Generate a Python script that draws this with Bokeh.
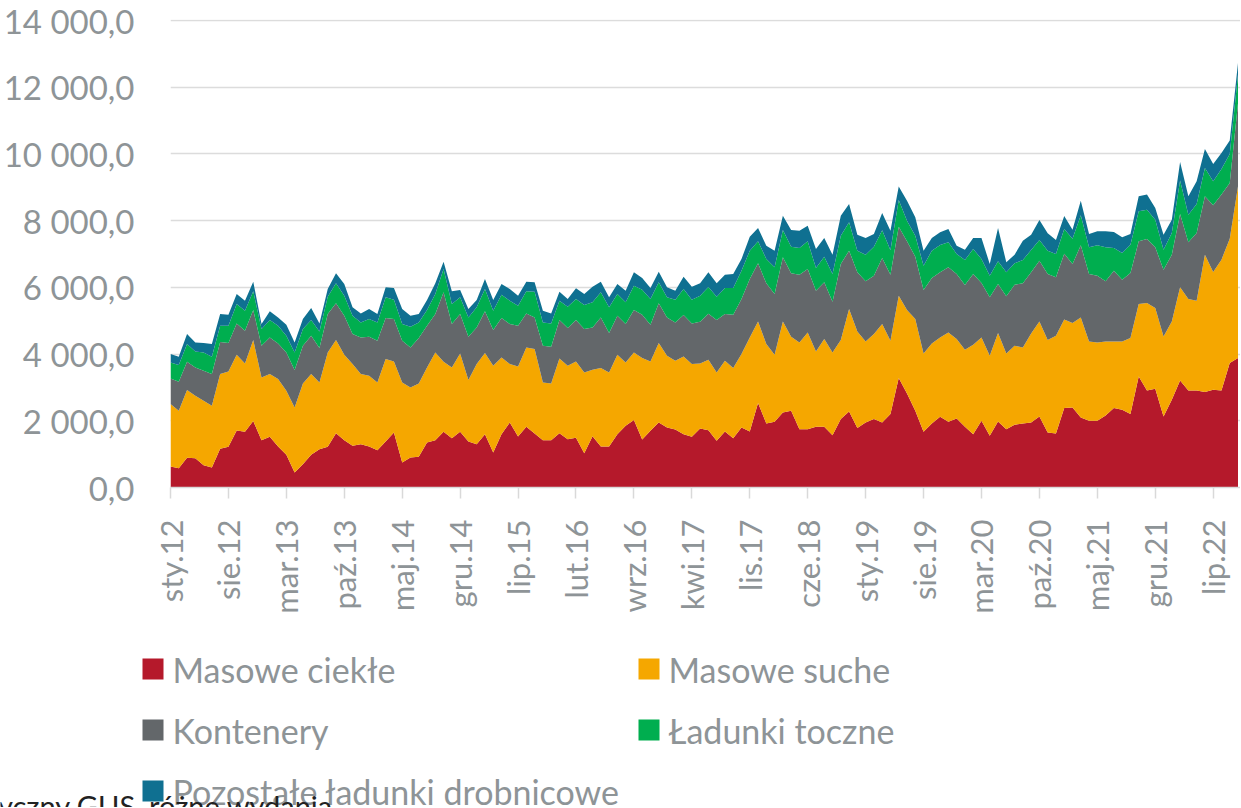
import math
from bokeh.plotting import figure
from bokeh.layouts import column
from bokeh.models import ColumnDataSource, Range1d, FixedTicker, Label, Plot
from bokeh.core.properties import value
from bokeh.embed import file_html
from bokeh.resources import INLINE

# ---------------- data (monthly, sty.12 .. paź.22) ----------------
masowe_ciekle = [630, 580, 890, 880, 670, 600, 1160, 1220, 1710, 1670,
                 1990, 1420, 1520, 1230, 980, 450, 700, 980, 1150, 1220,
                 1630, 1420, 1250, 1300, 1230, 1120, 1380, 1650, 750, 900,
                 920, 1350, 1420, 1670, 1480, 1670, 1380, 1300, 1600, 1050,
                 1600, 1950, 1530, 1820, 1620, 1420, 1420, 1630, 1450, 1490,
                 1030, 1540, 1230, 1230, 1600, 1850, 2020, 1440, 1700, 1950,
                 1800, 1740, 1600, 1520, 1770, 1720, 1400, 1680, 1480, 1800,
                 1680, 2530, 1920, 1970, 2250, 2300, 1750, 1750, 1820, 1820,
                 1570, 2050, 2280, 1780, 1950, 2050, 1950, 2200, 3280, 2820,
                 2300, 1670, 1920, 2120, 1970, 2070, 1820, 1600, 2000, 1550,
                 1980, 1750, 1880, 1920, 1950, 2130, 1650, 1620, 2380, 2400,
                 2100, 2000, 2000, 2160, 2380, 2330, 2200, 3330, 2910, 2960,
                 2130, 2630, 3210, 2910, 2910, 2860, 2930, 2910, 3730, 3880]

masowe_suche = [1870, 1720, 2030, 1870, 1930, 1850, 2240, 2260, 2270, 2050,
                2430, 1880, 1880, 2020, 1920, 1950, 2420, 2420, 2000, 2830,
                2790, 2560, 2450, 2100, 2120, 2030, 2470, 2130, 2400, 2100,
                2200, 2250, 2630, 2100, 2120, 2350, 1840, 2400, 2430, 2600,
                2300, 1750, 2100, 2380, 2530, 1730, 1700, 2240, 2200, 2290,
                2420, 1990, 2350, 2220, 2380, 1900, 2030, 2440, 2080, 2380,
                2150, 2060, 2330, 2180, 1950, 2110, 2050, 2120, 2100, 2200,
                2820, 2450, 2380, 2010, 2730, 2220, 2600, 2900, 2260, 2630,
                2480, 2370, 3070, 2900, 2430, 2550, 2950, 2200, 2470, 2500,
                2750, 2350, 2400, 2380, 2680, 2380, 2310, 2680, 2500, 2400,
                2650, 2270, 2370, 2280, 2670, 2850, 2770, 2930, 2660, 2530,
                3000, 2380, 2350, 2220, 2000, 2050, 2280, 2170, 2620, 2420,
                2400, 2350, 2790, 2740, 2690, 4120, 3530, 3920, 3730, 5150]

kontenery = [770, 870, 850, 850, 900, 950, 960, 850, 940, 980,
             900, 950, 1100, 1070, 1150, 1120, 1130, 1150, 1030, 1150,
             1100, 1170, 900, 1100, 1170, 1250, 1230, 1270, 1250, 1200,
             1360, 1250, 1150, 2080, 1300, 1180, 1300, 1100, 1250, 1070,
             1180, 1200, 1220, 1020, 950, 1100, 1100, 1150, 1130, 1240,
             1300, 1270, 1520, 1180, 1170, 1150, 1270, 1300, 1100, 1190,
             1150, 1150, 1240, 1220, 1250, 1380, 1570, 1400, 1600, 1650,
             1750, 1740, 1820, 1820, 1920, 1900, 2030, 1900, 1820, 1700,
             1520, 2280, 1750, 1770, 1800, 1750, 1980, 1980, 2070, 2060,
             1870, 1900, 1960, 1950, 1950, 1950, 1940, 2120, 1630, 1750,
             1470, 1710, 1830, 1920, 1830, 1820, 1980, 1750, 1970, 1770,
             2160, 2020, 2000, 1800, 2120, 1850, 1950, 1880, 1920, 1820,
             2000, 2000, 2200, 1700, 2030, 1750, 2000, 1950, 1670, 2500]

ladunki_toczne = [480, 500, 530, 480, 550, 520, 490, 520, 580, 600,
                  560, 500, 520, 530, 500, 530, 500, 470, 500, 520,
                  600, 600, 550, 450, 530, 550, 620, 580, 500, 620,
                  470, 470, 600, 700, 600, 500, 580, 600, 670, 580,
                  700, 700, 600, 660, 770, 700, 700, 580, 640, 630,
                  720, 750, 750, 770, 650, 650, 730, 750, 770, 630,
                  600, 680, 780, 710, 780, 800, 700, 780, 800, 850,
                  850, 660, 730, 800, 820, 800, 800, 830, 680, 770,
                  830, 850, 850, 650, 800, 870, 830, 730, 800, 620,
                  630, 730, 820, 820, 750, 600, 750, 750, 720, 650,
                  680, 720, 640, 700, 670, 620, 700, 700, 740, 760,
                  900, 800, 910, 1020, 680, 800, 850, 900, 880, 830,
                  600, 650, 1000, 830, 870, 850, 720, 770, 870, 850]

pozostale = [250, 250, 300, 270, 280, 380, 350, 330, 300, 300,
             290, 150, 260, 250, 330, 300, 300, 360, 240, 230,
             300, 350, 250, 270, 300, 250, 300, 350, 450, 330,
             250, 300, 320, 220, 380, 220, 250, 220, 300, 320,
             320, 350, 300, 290, 280, 350, 300, 270, 230, 320,
             330, 470, 320, 300, 300, 350, 400, 350, 330, 320,
             300, 270, 370, 390, 370, 440, 400, 400, 420, 350,
             420, 400, 400, 500, 430, 500, 520, 470, 570, 560,
             580, 600, 550, 480, 500, 380, 520, 590, 400, 600,
             550, 450, 380, 380, 400, 250, 310, 330, 630, 350,
             1000, 300, 260, 580, 460, 600, 520, 420, 390, 270,
             440, 400, 420, 480, 480, 470, 320, 450, 450, 350,
             450, 400, 560, 550, 680, 570, 520, 480, 400, 350]

series_names = ["Masowe ciekłe", "Masowe suche", "Kontenery", "Ładunki toczne",
                "Pozostałe ładunki drobnicowe"]
series_colors = ["#B5192B", "#F5A700", "#63676A", "#00AE4F", "#0F7091"]

tick_positions = list(range(0, 130, 7))
tick_labels = ["sty.12", "sie.12", "mar.13", "paź.13", "maj.14", "gru.14", "lip.15",
               "lut.16", "wrz.16", "kwi.17", "lis.17", "cze.18", "sty.19", "sie.19",
               "mar.20", "paź.20", "maj.21", "gru.21", "lip.22"]
y_ticks = [0, 2000, 4000, 6000, 8000, 10000, 12000, 14000]

source_note = "yczny GUS, różne wydania"

# ---------------- main chart ----------------
FONT = "Lato"
TXT = "#8E9497"
W = 1240
LEFT = 170
MAIN_H = 638
n = len(masowe_ciekle)
src = ColumnDataSource(dict(x=list(range(n)), c0=masowe_ciekle, c1=masowe_suche,
                            c2=kontenery, c3=ladunki_toczne, c4=pozostale))

p = figure(width=W, height=MAIN_H, output_backend="svg", toolbar_location=None,
           x_range=Range1d(0, n - 0.7), y_range=Range1d(0, 14030),
           min_border_left=LEFT, min_border_right=0, min_border_top=19,
           min_border_bottom=151)
p.outline_line_color = None

rs = p.varea_stack(stackers=["c0", "c1", "c2", "c3", "c4"], x="x",
                   color=series_colors, source=src)

p.xgrid.grid_line_color = None
p.ygrid.grid_line_color = "#DCDCDC"
p.ygrid.grid_line_width = 1.5
p.ygrid.ticker = FixedTicker(ticks=y_ticks)

p.yaxis.ticker = FixedTicker(ticks=y_ticks)
p.yaxis.major_label_overrides = {
    v: f"{v:,.1f}".replace(",", " ").replace(".", ",") for v in y_ticks}
p.yaxis.axis_line_color = None
p.yaxis.major_tick_line_color = None
p.yaxis.minor_tick_line_color = None
p.yaxis.major_label_standoff = 30
p.yaxis.major_label_text_font = FONT
p.yaxis.major_label_text_font_size = "33px"
p.yaxis.major_label_text_color = TXT

p.xaxis.ticker = FixedTicker(ticks=tick_positions)
p.xaxis.major_label_overrides = dict(zip(tick_positions, tick_labels))
p.xaxis.major_label_orientation = math.pi / 2
p.xaxis.axis_line_color = "#D9D9D9"
p.xaxis.axis_line_width = 1.5
p.xaxis.major_tick_line_color = "#D9D9D9"
p.xaxis.major_tick_line_width = 1.5
p.xaxis.major_tick_in = 0
p.xaxis.major_tick_out = 11
p.xaxis.minor_tick_line_color = None
p.xaxis.major_label_standoff = 21
p.xaxis.major_label_text_font = FONT
p.xaxis.major_label_text_font_size = "31px"
p.xaxis.major_label_text_color = TXT

# ---------------- legend strip (drawn below the chart) ----------------
LH = 169
off = 0
if "frame_align" in Plot.properties():
    p.frame_align = False
else:
    off = LEFT
lf = figure(width=W, height=LH, output_backend="svg", toolbar_location=None,
            x_range=Range1d(off, W), y_range=Range1d(0, LH),
            min_border=0, x_axis_type=None, y_axis_type=None)
if off == 0:
    lf.frame_align = False
lf.outline_line_color = None
lf.xgrid.visible = False
lf.ygrid.visible = False

leg_col = [0, 1, 0, 1, 0]
leg_row = [0, 0, 1, 1, 2]
col_x = [max(142, off), 638]
row_mid = [30.5, 91.5, 152.5]
gx = [col_x[c] for c in leg_col]
gy = [LH - row_mid[r] for r in leg_row]
lf.rect(x=[g + 10.5 for g in gx], y=gy, width=21, height=21,
        fill_color=series_colors, line_color=None)
lf.text(x=[g + 30 for g in gx], y=gy, text=series_names, text_baseline="middle",
        text_align="left", text_font=value(FONT), text_font_size=value("34px"),
        text_color=TXT)

# source note (cut off at the bottom, as in the original)
lf.add_layout(Label(x=333 - off, y=20, x_units="screen", y_units="screen",
                    text=source_note, text_align="right",
                    text_baseline="top", text_font=FONT, text_font_size="29px",
                    text_color="#222222"))

open("out.html", "w").write(file_html(column(p, lf, spacing=0), INLINE))
